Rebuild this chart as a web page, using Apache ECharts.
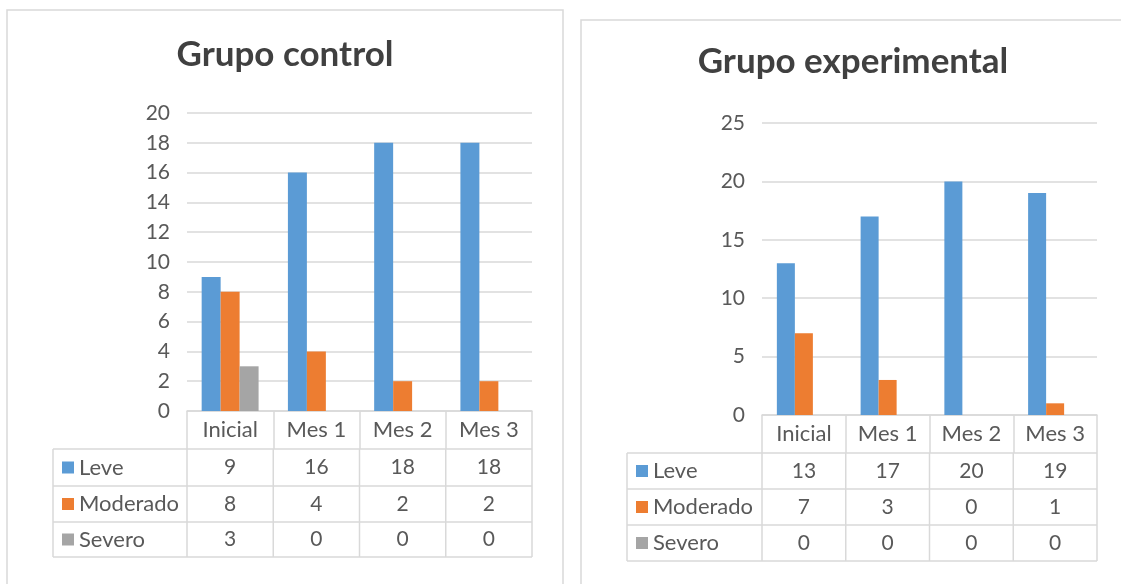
<!DOCTYPE html>
<html>
<head>
<meta charset="utf-8">
<script src="https://cdn.jsdelivr.net/npm/echarts@6/dist/echarts.min.js"></script>
<style>
html,body{margin:0;padding:0;background:#fff;}
#main{width:1121px;height:584px;}
</style>
</head>
<body>
<div id="main"></div>
<script>
// ---- data ----
const categories = ['Inicial', 'Mes 1', 'Mes 2', 'Mes 3'];
const seriesNames = ['Leve', 'Moderado', 'Severo'];
const controlTitle = 'Grupo control';
const controlLeve = [9, 16, 18, 18];
const controlModerado = [8, 4, 2, 2];
const controlSevero = [3, 0, 0, 0];
const expTitle = 'Grupo experimental';
const expLeve = [13, 17, 20, 19];
const expModerado = [7, 3, 0, 1];
const expSevero = [0, 0, 0, 0];

// ---- styles / layout ----
const colors = ['#5B9BD5', '#ED7D31', '#A5A5A5'];
const FONT = 'Lato';
const TXT = '#595959';
const LINE = '#D9D9D9';
const W = 1121, H = 584;

const panels = [
  { title: controlTitle, data: [controlLeve, controlModerado, controlSevero], max: 20, interval: 2,
    box: [7, 10, 556, 640], titleX: 285, titleY: 55,
    x0: 187, x1: 532, yTop: 113, y0: 411, rows: [449, 486, 522, 557], colLeft: 53 },
  { title: expTitle, data: [expLeve, expModerado, expSevero], max: 25, interval: 5,
    box: [581, 20, 560, 640], titleX: 853, titleY: 62,
    x0: 762, x1: 1097, yTop: 123, y0: 415, rows: [453, 489, 525, 561], colLeft: 627 }
];

const grids = [], xAxes = [], yAxes = [], series = [], graphics = [];
panels.forEach((p, i) => {
  graphics.push({ type: 'rect', shape: { x: p.box[0], y: p.box[1], width: p.box[2], height: p.box[3] },
    style: { fill: 'none', stroke: LINE, lineWidth: 1.5 }, z: -1 });
  graphics.push({ type: 'text', x: p.titleX, y: p.titleY,
    style: { text: p.title, fill: '#404040', font: 'bold 35px ' + FONT, textAlign: 'center', textVerticalAlign: 'middle' } });
  grids.push({ left: p.x0, right: W - p.x1, top: p.yTop, bottom: H - p.y0 });
  const headerH = p.rows[0] - p.y0;
  xAxes.push({ type: 'category', gridIndex: i, data: categories,
    axisLine: { show: true, lineStyle: { color: LINE, width: 1.5 } },
    axisTick: { show: true, length: headerH, lineStyle: { color: LINE, width: 1.5 } },
    axisLabel: { color: TXT, fontFamily: FONT, fontSize: 22, margin: 8 } });
  yAxes.push({ type: 'value', gridIndex: i, min: 0, max: p.max, interval: p.interval,
    axisLine: { show: false }, axisTick: { show: false },
    splitLine: { lineStyle: { color: LINE, width: 1.5 } },
    axisLabel: { color: TXT, fontFamily: FONT, fontSize: 21, margin: 17 } });
  p.data.forEach((vals, k) => {
    series.push({ type: 'bar', name: seriesNames[k], xAxisIndex: i, yAxisIndex: i, data: vals,
      barGap: '0%', barCategoryGap: i === 0 ? '34%' : '35.5%',
      itemStyle: { color: colors[k] }, silent: true });
  });
  // table body
  const n = categories.length;
  const cw = (p.x1 - p.x0) / n;
  const lineStyle = { stroke: LINE, lineWidth: 1.5 };
  p.rows.forEach(y => graphics.push({ type: 'line', shape: { x1: p.colLeft, y1: y, x2: p.x1, y2: y }, style: lineStyle }));
  const yA = p.rows[0], yB = p.rows[p.rows.length - 1];
  graphics.push({ type: 'line', shape: { x1: p.colLeft, y1: yA, x2: p.colLeft, y2: yB }, style: lineStyle });
  for (let c = 0; c <= n; c++) {
    const x = p.x0 + c * cw;
    graphics.push({ type: 'line', shape: { x1: x, y1: yA, x2: x, y2: yB }, style: lineStyle });
  }
  p.data.forEach((vals, k) => {
    const yc = (p.rows[k] + p.rows[k + 1]) / 2;
    graphics.push({ type: 'rect', shape: { x: p.colLeft + 9, y: yc - 6, width: 12, height: 12 }, style: { fill: colors[k] } });
    graphics.push({ type: 'text', x: p.colLeft + 26, y: yc, style: { text: seriesNames[k], fill: TXT, font: '22px ' + FONT, textAlign: 'left', textVerticalAlign: 'middle' } });
    vals.forEach((v, c) => {
      graphics.push({ type: 'text', x: p.x0 + (c + 0.5) * cw, y: yc, style: { text: String(v), fill: TXT, font: '21px ' + FONT, textAlign: 'center', textVerticalAlign: 'middle' } });
    });
  });
});

const chart = echarts.init(document.getElementById('main'), null, { renderer: 'canvas' });
chart.setOption({
  backgroundColor: '#fff',
  animation: false,
  grid: grids,
  xAxis: xAxes,
  yAxis: yAxes,
  series: series,
  graphic: graphics
});
</script>
</body>
</html>
